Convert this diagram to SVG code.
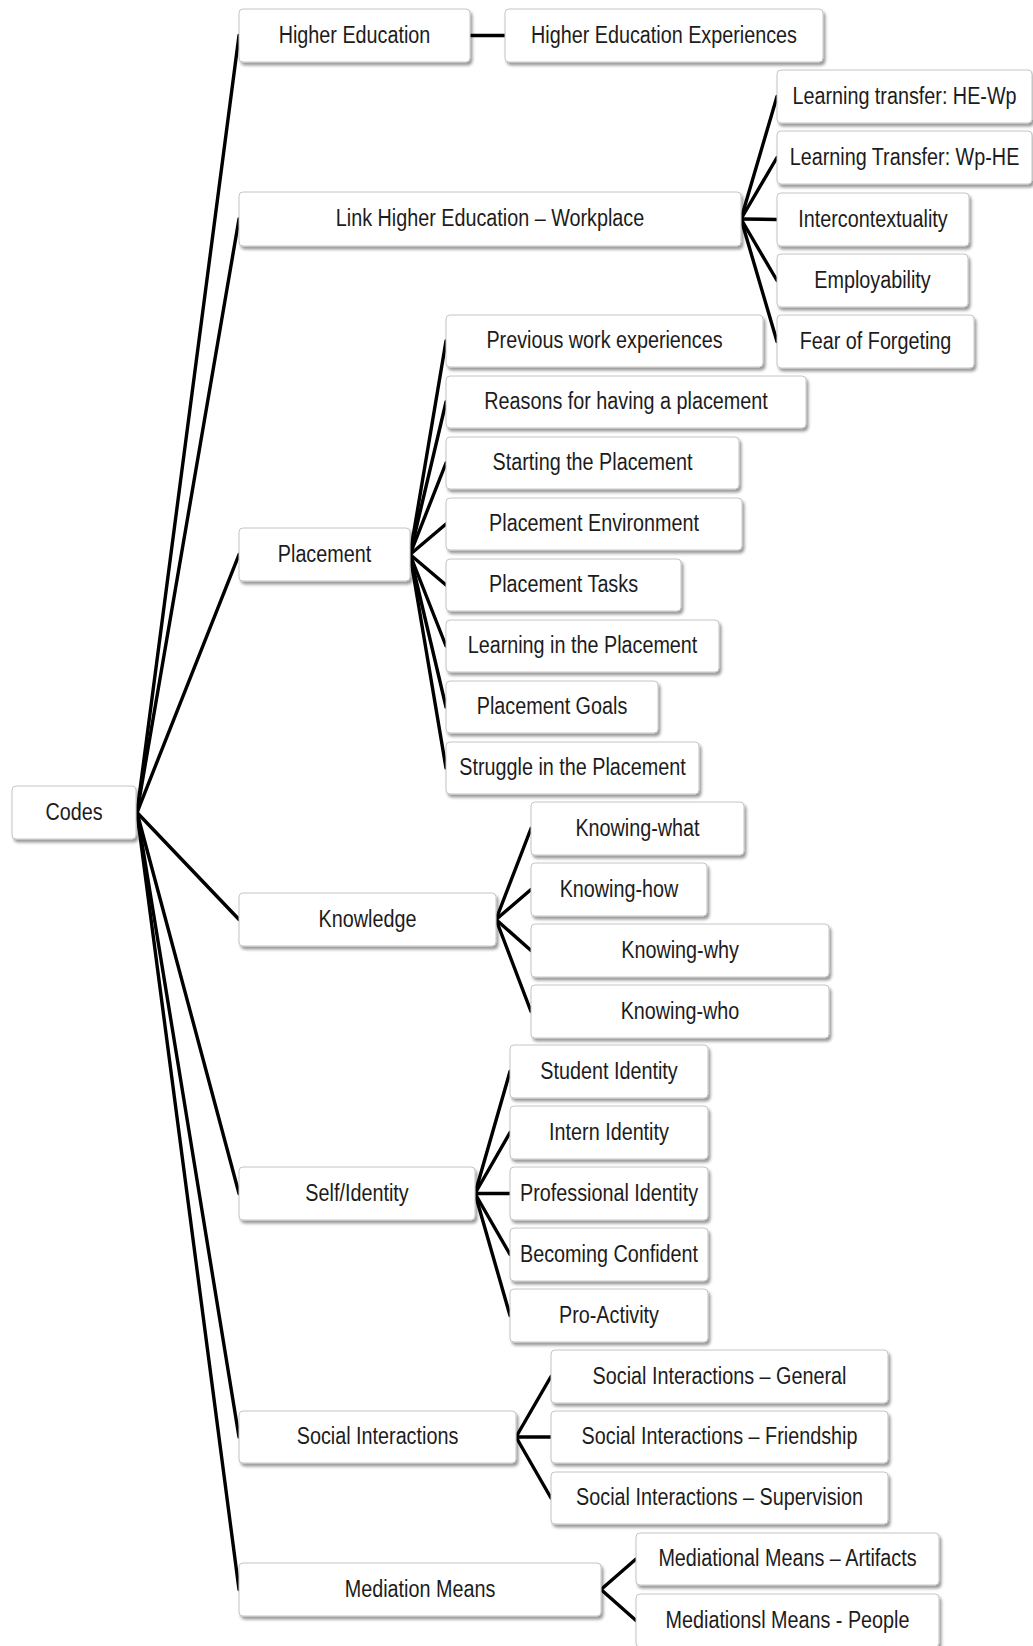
<svg xmlns="http://www.w3.org/2000/svg" width="1033" height="1646" viewBox="0 0 1033 1646">
<defs>
<filter id="sh" x="-10%" y="-20%" width="120%" height="160%">
<feDropShadow dx="2" dy="3" stdDeviation="1.5" flood-color="#000" flood-opacity="0.4"/>
</filter>
<style>
.box{fill:#fff;stroke:#c4c4c4;stroke-width:1;filter:url(#sh)}
.lbl{font-family:"Liberation Sans",Arial,sans-serif;font-size:23px;fill:#1c1c1c;text-anchor:middle}
.conn line{stroke:#000;stroke-width:3.4;stroke-linecap:round}
</style>
</defs>
<rect width="1033" height="1646" fill="#fff"/>
<g class="conn" id="connectors">
<line x1="137" y1="812.5" x2="239" y2="35.5"/>
<line x1="137" y1="812.5" x2="239" y2="219"/>
<line x1="137" y1="812.5" x2="239" y2="554.5"/>
<line x1="137" y1="812.5" x2="239" y2="919.5"/>
<line x1="137" y1="812.5" x2="239" y2="1193.5"/>
<line x1="137" y1="812.5" x2="239" y2="1437"/>
<line x1="137" y1="812.5" x2="239" y2="1589.5"/>
<line x1="470" y1="35.5" x2="505" y2="35.5"/>
<line x1="741" y1="219" x2="777" y2="96.5"/>
<line x1="741" y1="219" x2="777" y2="157.5"/>
<line x1="741" y1="219" x2="777" y2="219.5"/>
<line x1="741" y1="219" x2="777" y2="280.5"/>
<line x1="741" y1="219" x2="777" y2="341.5"/>
<line x1="410" y1="554.5" x2="446" y2="341"/>
<line x1="410" y1="554.5" x2="446" y2="402"/>
<line x1="410" y1="554.5" x2="446" y2="463"/>
<line x1="410" y1="554.5" x2="446" y2="524"/>
<line x1="410" y1="554.5" x2="446" y2="585"/>
<line x1="410" y1="554.5" x2="446" y2="646"/>
<line x1="410" y1="554.5" x2="446" y2="707"/>
<line x1="410" y1="554.5" x2="446" y2="768"/>
<line x1="496" y1="919.5" x2="531" y2="828.5"/>
<line x1="496" y1="919.5" x2="531" y2="889.5"/>
<line x1="496" y1="919.5" x2="531" y2="950.5"/>
<line x1="496" y1="919.5" x2="531" y2="1011.5"/>
<line x1="475" y1="1193.5" x2="510" y2="1071.5"/>
<line x1="475" y1="1193.5" x2="510" y2="1132.5"/>
<line x1="475" y1="1193.5" x2="510" y2="1193.5"/>
<line x1="475" y1="1193.5" x2="510" y2="1254.5"/>
<line x1="475" y1="1193.5" x2="510" y2="1315.5"/>
<line x1="516" y1="1437" x2="551" y2="1376.5"/>
<line x1="516" y1="1437" x2="551" y2="1437"/>
<line x1="516" y1="1437" x2="551" y2="1498"/>
<line x1="601" y1="1589.5" x2="636" y2="1559"/>
<line x1="601" y1="1589.5" x2="636" y2="1620.5"/>
</g>
<g id="codes"><rect class="box" x="12" y="786" width="124" height="53" rx="4"/><text class="lbl" transform="translate(74,819.5) scale(0.86,1)">Codes</text></g>
<g id="higher-education"><rect class="box" x="239" y="9" width="231" height="53" rx="4"/><text class="lbl" transform="translate(354.5,42.5) scale(0.86,1)">Higher Education</text></g>
<g id="he-experiences"><rect class="box" x="505" y="9" width="318" height="53" rx="4"/><text class="lbl" transform="translate(664,42.5) scale(0.86,1)">Higher Education Experiences</text></g>
<g id="link-he-wp"><rect class="box" x="239" y="192" width="502" height="54" rx="4"/><text class="lbl" transform="translate(490,226) scale(0.86,1)">Link Higher Education – Workplace</text></g>
<g id="lt-he-wp"><rect class="box" x="777" y="70" width="255" height="53" rx="4"/><text class="lbl" transform="translate(904.5,103.5) scale(0.86,1)">Learning transfer: HE-Wp</text></g>
<g id="lt-wp-he"><rect class="box" x="777" y="131" width="255" height="53" rx="4"/><text class="lbl" transform="translate(904.5,164.5) scale(0.86,1)">Learning Transfer: Wp-HE</text></g>
<g id="intercontextuality"><rect class="box" x="777" y="193" width="192" height="53" rx="4"/><text class="lbl" transform="translate(873,226.5) scale(0.86,1)">Intercontextuality</text></g>
<g id="employability"><rect class="box" x="777" y="254" width="191" height="53" rx="4"/><text class="lbl" transform="translate(872.5,287.5) scale(0.86,1)">Employability</text></g>
<g id="fear"><rect class="box" x="777" y="315" width="197" height="53" rx="4"/><text class="lbl" transform="translate(875.5,348.5) scale(0.86,1)">Fear of Forgeting</text></g>
<g id="placement"><rect class="box" x="239" y="528" width="171" height="53" rx="4"/><text class="lbl" transform="translate(324.5,561.5) scale(0.86,1)">Placement</text></g>
<g id="p-previous"><rect class="box" x="446" y="315" width="317" height="52" rx="4"/><text class="lbl" transform="translate(604.5,348) scale(0.86,1)">Previous work experiences</text></g>
<g id="p-reasons"><rect class="box" x="446" y="376" width="360" height="52" rx="4"/><text class="lbl" transform="translate(626,409) scale(0.86,1)">Reasons for having a placement</text></g>
<g id="p-starting"><rect class="box" x="446" y="437" width="293" height="52" rx="4"/><text class="lbl" transform="translate(592.5,470) scale(0.86,1)">Starting the Placement</text></g>
<g id="p-environment"><rect class="box" x="446" y="498" width="296" height="52" rx="4"/><text class="lbl" transform="translate(594,531) scale(0.86,1)">Placement Environment</text></g>
<g id="p-tasks"><rect class="box" x="446" y="559" width="235" height="52" rx="4"/><text class="lbl" transform="translate(563.5,592) scale(0.86,1)">Placement Tasks</text></g>
<g id="p-learning"><rect class="box" x="446" y="620" width="273" height="52" rx="4"/><text class="lbl" transform="translate(582.5,653) scale(0.86,1)">Learning in the Placement</text></g>
<g id="p-goals"><rect class="box" x="446" y="681" width="212" height="52" rx="4"/><text class="lbl" transform="translate(552,714) scale(0.86,1)">Placement Goals</text></g>
<g id="p-struggle"><rect class="box" x="446" y="742" width="253" height="52" rx="4"/><text class="lbl" transform="translate(572.5,775) scale(0.86,1)">Struggle  in the Placement</text></g>
<g id="knowledge"><rect class="box" x="239" y="893" width="257" height="53" rx="4"/><text class="lbl" transform="translate(367.5,926.5) scale(0.86,1)">Knowledge</text></g>
<g id="k-what"><rect class="box" x="531" y="802" width="213" height="53" rx="4"/><text class="lbl" transform="translate(637.5,835.5) scale(0.86,1)">Knowing-what</text></g>
<g id="k-how"><rect class="box" x="531" y="863" width="176" height="53" rx="4"/><text class="lbl" transform="translate(619,896.5) scale(0.86,1)">Knowing-how</text></g>
<g id="k-why"><rect class="box" x="531" y="924" width="298" height="53" rx="4"/><text class="lbl" transform="translate(680,957.5) scale(0.86,1)">Knowing-why</text></g>
<g id="k-who"><rect class="box" x="531" y="985" width="298" height="53" rx="4"/><text class="lbl" transform="translate(680,1018.5) scale(0.86,1)">Knowing-who</text></g>
<g id="self-identity"><rect class="box" x="239" y="1167" width="236" height="53" rx="4"/><text class="lbl" transform="translate(357,1200.5) scale(0.86,1)">Self/Identity</text></g>
<g id="s-student"><rect class="box" x="510" y="1045" width="198" height="53" rx="4"/><text class="lbl" transform="translate(609,1078.5) scale(0.86,1)">Student  Identity</text></g>
<g id="s-intern"><rect class="box" x="510" y="1106" width="198" height="53" rx="4"/><text class="lbl" transform="translate(609,1139.5) scale(0.86,1)">Intern Identity</text></g>
<g id="s-professional"><rect class="box" x="510" y="1167" width="198" height="53" rx="4"/><text class="lbl" transform="translate(609,1200.5) scale(0.86,1)">Professional Identity</text></g>
<g id="s-confident"><rect class="box" x="510" y="1228" width="198" height="53" rx="4"/><text class="lbl" transform="translate(609,1261.5) scale(0.86,1)">Becoming Confident</text></g>
<g id="s-proactivity"><rect class="box" x="510" y="1289" width="198" height="53" rx="4"/><text class="lbl" transform="translate(609,1322.5) scale(0.86,1)">Pro-Activity</text></g>
<g id="social"><rect class="box" x="239" y="1411" width="277" height="52" rx="4"/><text class="lbl" transform="translate(377.5,1444) scale(0.86,1)">Social Interactions</text></g>
<g id="si-general"><rect class="box" x="551" y="1350" width="337" height="53" rx="4"/><text class="lbl" transform="translate(719.5,1383.5) scale(0.86,1)">Social Interactions – General</text></g>
<g id="si-friendship"><rect class="box" x="551" y="1411" width="337" height="52" rx="4"/><text class="lbl" transform="translate(719.5,1444) scale(0.86,1)">Social Interactions – Friendship</text></g>
<g id="si-supervision"><rect class="box" x="551" y="1472" width="337" height="52" rx="4"/><text class="lbl" transform="translate(719.5,1505) scale(0.86,1)">Social Interactions – Supervision</text></g>
<g id="mediation"><rect class="box" x="239" y="1563" width="362" height="53" rx="4"/><text class="lbl" transform="translate(420,1596.5) scale(0.86,1)">Mediation Means</text></g>
<g id="m-artifacts"><rect class="box" x="636" y="1533" width="303" height="52" rx="4"/><text class="lbl" transform="translate(787.5,1566) scale(0.86,1)">Mediational Means – Artifacts</text></g>
<g id="m-people"><rect class="box" x="636" y="1594" width="303" height="53" rx="4"/><text class="lbl" transform="translate(787.5,1627.5) scale(0.86,1)">Mediationsl Means - People</text></g>
</svg>
